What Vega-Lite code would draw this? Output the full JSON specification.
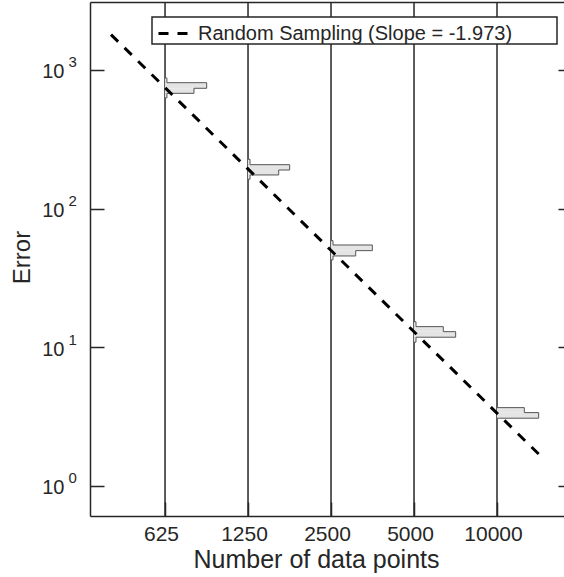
{
  "$schema": "https://vega.github.io/schema/vega-lite/v6.json",
  "description": "Error vs number of data points, log-log, with error histograms and a random-sampling fit line.",
  "width": 474,
  "height": 514,
  "autosize": {"type": "none"},
  "padding": {"left": 90, "top": 2, "right": 0, "bottom": 61},
  "background": "white",
  "config": {
    "view": {"stroke": null},
    "font": "Liberation Sans",
    "axis": {
      "grid": false,
      "domainColor": "#262626",
      "domainWidth": 1.5,
      "tickColor": "#262626",
      "tickWidth": 1.5,
      "labelColor": "#262626",
      "titleColor": "#262626",
      "labelFont": "Liberation Sans",
      "titleFont": "Liberation Sans",
      "titleFontWeight": "normal"
    }
  },
  "datasets": {
    "sizes": [
      {"n": 625}, {"n": 1250}, {"n": 2500}, {"n": 5000}, {"n": 10000}
    ],
    "hist": [
      {"n0": 625, "n1": 635, "e0": 810, "e1": 876},
      {"n0": 625, "n1": 885, "e0": 738, "e1": 810},
      {"n0": 625, "n1": 796, "e0": 679, "e1": 738},
      {"n0": 625, "n1": 635, "e0": 629, "e1": 679},
      {"n0": 1250, "n1": 1271, "e0": 207.6, "e1": 227},
      {"n0": 1250, "n1": 1770, "e0": 190, "e1": 207.6},
      {"n0": 1250, "n1": 1615, "e0": 175, "e1": 190},
      {"n0": 1250, "n1": 1271, "e0": 163, "e1": 175},
      {"n0": 2500, "n1": 2542, "e0": 54.7, "e1": 58.8},
      {"n0": 2500, "n1": 3530, "e0": 49.8, "e1": 54.7},
      {"n0": 2500, "n1": 3072, "e0": 45.6, "e1": 49.8},
      {"n0": 2500, "n1": 2542, "e0": 42.7, "e1": 45.6},
      {"n0": 5000, "n1": 5084, "e0": 14.1, "e1": 15.3},
      {"n0": 5000, "n1": 6386, "e0": 12.97, "e1": 14.1},
      {"n0": 5000, "n1": 7080, "e0": 11.83, "e1": 12.97},
      {"n0": 5000, "n1": 5084, "e0": 10.89, "e1": 11.83},
      {"n0": 10000, "n1": 12560, "e0": 3.382, "e1": 3.674},
      {"n0": 10000, "n1": 14160, "e0": 3.082, "e1": 3.382}
    ],
    "outline": [
      {"g": 1, "k": 1, "n": 625, "e": 876},
      {"g": 1, "k": 2, "n": 635, "e": 876},
      {"g": 1, "k": 3, "n": 635, "e": 810},
      {"g": 1, "k": 4, "n": 885, "e": 810},
      {"g": 1, "k": 5, "n": 885, "e": 738},
      {"g": 1, "k": 6, "n": 796, "e": 738},
      {"g": 1, "k": 7, "n": 796, "e": 679},
      {"g": 1, "k": 8, "n": 635, "e": 679},
      {"g": 1, "k": 9, "n": 635, "e": 629},
      {"g": 1, "k": 10, "n": 625, "e": 629},
      {"g": 2, "k": 1, "n": 1250, "e": 227},
      {"g": 2, "k": 2, "n": 1271, "e": 227},
      {"g": 2, "k": 3, "n": 1271, "e": 207.6},
      {"g": 2, "k": 4, "n": 1770, "e": 207.6},
      {"g": 2, "k": 5, "n": 1770, "e": 190},
      {"g": 2, "k": 6, "n": 1615, "e": 190},
      {"g": 2, "k": 7, "n": 1615, "e": 175},
      {"g": 2, "k": 8, "n": 1271, "e": 175},
      {"g": 2, "k": 9, "n": 1271, "e": 163},
      {"g": 2, "k": 10, "n": 1250, "e": 163},
      {"g": 3, "k": 1, "n": 2500, "e": 58.8},
      {"g": 3, "k": 2, "n": 2542, "e": 58.8},
      {"g": 3, "k": 3, "n": 2542, "e": 54.7},
      {"g": 3, "k": 4, "n": 3530, "e": 54.7},
      {"g": 3, "k": 5, "n": 3530, "e": 49.8},
      {"g": 3, "k": 6, "n": 3072, "e": 49.8},
      {"g": 3, "k": 7, "n": 3072, "e": 45.6},
      {"g": 3, "k": 8, "n": 2542, "e": 45.6},
      {"g": 3, "k": 9, "n": 2542, "e": 42.7},
      {"g": 3, "k": 10, "n": 2500, "e": 42.7},
      {"g": 4, "k": 1, "n": 5000, "e": 15.3},
      {"g": 4, "k": 2, "n": 5084, "e": 15.3},
      {"g": 4, "k": 3, "n": 5084, "e": 14.1},
      {"g": 4, "k": 4, "n": 6386, "e": 14.1},
      {"g": 4, "k": 5, "n": 6386, "e": 12.97},
      {"g": 4, "k": 6, "n": 7080, "e": 12.97},
      {"g": 4, "k": 7, "n": 7080, "e": 11.83},
      {"g": 4, "k": 8, "n": 5084, "e": 11.83},
      {"g": 4, "k": 9, "n": 5084, "e": 10.89},
      {"g": 4, "k": 10, "n": 5000, "e": 10.89},
      {"g": 5, "k": 1, "n": 10000, "e": 3.674},
      {"g": 5, "k": 2, "n": 12560, "e": 3.674},
      {"g": 5, "k": 3, "n": 12560, "e": 3.382},
      {"g": 5, "k": 4, "n": 14160, "e": 3.382},
      {"g": 5, "k": 5, "n": 14160, "e": 3.082},
      {"g": 5, "k": 6, "n": 10000, "e": 3.082}
    ],
    "fit": [
      {"n": 398, "err": 1800, "series": "Random Sampling (Slope = -1.973)"},
      {"n": 14900, "err": 1.54, "series": "Random Sampling (Slope = -1.973)"}
    ]
  },
  "layer": [
    {
      "data": {"name": "sizes"},
      "mark": {"type": "rule", "color": "#262626", "strokeWidth": 1.5},
      "encoding": {
        "x": {
          "field": "n",
          "type": "quantitative",
          "scale": {"type": "log", "domain": [334, 17498], "nice": false},
          "axis": {
            "orient": "bottom",
            "values": [625, 1250, 2500, 5000, 10000],
            "format": "d",
            "labelFontSize": 21,
            "tickSize": -14,
            "labelPadding": 21,
            "labelOffset": -4,
            "title": "Number of data points",
            "titleFontSize": 25,
            "titleX": 226,
            "titleY": 51,
            "titleAlign": "center",
            "titleBaseline": "alphabetic"
          }
        }
      }
    },
    {
      "data": {"name": "hist"},
      "mark": {"type": "rect", "fill": "#e4e4e4", "strokeWidth": 0},
      "encoding": {
        "x": {
          "field": "n0",
          "type": "quantitative",
          "scale": {"type": "log", "domain": [334, 17498], "nice": false},
          "axis": null
        },
        "x2": {"field": "n1"},
        "y": {
          "field": "e0",
          "type": "quantitative",
          "scale": {"type": "log", "domain": [0.6076, 3093], "nice": false},
          "axis": {
            "orient": "left",
            "values": [1, 10, 100, 1000],
            "labelExpr": "'10'",
            "labelFontSize": 20,
            "labelBaseline": "middle",
            "labelOffset": 2,
            "tickSize": -14,
            "labelPadding": 40,
            "title": "Error",
            "titleFontSize": 24,
            "titleAngle": -90,
            "titleX": -61,
            "titleY": 255,
            "titleAlign": "center",
            "titleBaseline": "alphabetic"
          }
        },
        "y2": {"field": "e1"}
      }
    },
    {
      "data": {"name": "outline"},
      "mark": {"type": "line", "color": "#555555", "strokeWidth": 1, "strokeJoin": "miter"},
      "encoding": {
        "x": {
          "field": "n",
          "type": "quantitative",
          "scale": {"type": "log", "domain": [334, 17498], "nice": false},
          "axis": null
        },
        "y": {
          "field": "e",
          "type": "quantitative",
          "scale": {"type": "log", "domain": [0.6076, 3093], "nice": false},
          "axis": {
            "orient": "left",
            "values": [1, 10, 100, 1000],
            "labelExpr": "format(log(datum.value) / LN10, '.0f')",
            "labelFontSize": 15,
            "labelAlign": "left",
            "labelBaseline": "middle",
            "labelOffset": -8,
            "labelOverlap": false,
            "ticks": false,
            "domain": false,
            "labelPadding": 22,
            "title": null
          }
        },
        "detail": {"field": "g", "type": "nominal"},
        "order": {"field": "k", "type": "quantitative"}
      }
    },
    {
      "data": {"name": "fit"},
      "mark": {"type": "line", "strokeDash": [10, 9], "strokeWidth": 3},
      "encoding": {
        "x": {
          "field": "n",
          "type": "quantitative",
          "scale": {"type": "log", "domain": [334, 17498], "nice": false},
          "axis": {
            "orient": "top",
            "values": [625, 1250, 2500, 5000, 10000],
            "labels": false,
            "ticks": false,
            "title": null
          }
        },
        "y": {
          "field": "err",
          "type": "quantitative",
          "scale": {"type": "log", "domain": [0.6076, 3093], "nice": false},
          "axis": {
            "orient": "right",
            "values": [1, 10, 100, 1000],
            "labels": false,
            "domain": false,
            "tickSize": -6,
            "title": null
          }
        },
        "color": {
          "field": "series",
          "type": "nominal",
          "scale": {"range": ["black"]},
          "legend": {
            "orient": "none",
            "legendX": 62,
            "legendY": 15,
            "title": null,
            "symbolType": "stroke",
            "symbolStrokeWidth": 3,
            "symbolDash": [10, 9],
            "symbolSize": 900,
            "symbolOffset": 5,
            "symbolStrokeColor": "black",
            "labelFontSize": 20,
            "labelFont": "Liberation Sans",
            "labelColor": "#262626",
            "labelOffset": 8,
            "labelLimit": 600,
            "labelExpr": "datum.label + '\u00a0\u00a0\u00a0\u00a0\u00a0\u00a0\u00a0\u00a0\u200b'",
            "padding": 0,
            "strokeColor": "#262626",
            "fillColor": "white",
            "encode": {"legend": {"update": {"strokeWidth": {"value": 1.5}}}}
          }
        }
      }
    }
  ],
  "resolve": {"axis": {"x": "independent", "y": "independent"}}
}
